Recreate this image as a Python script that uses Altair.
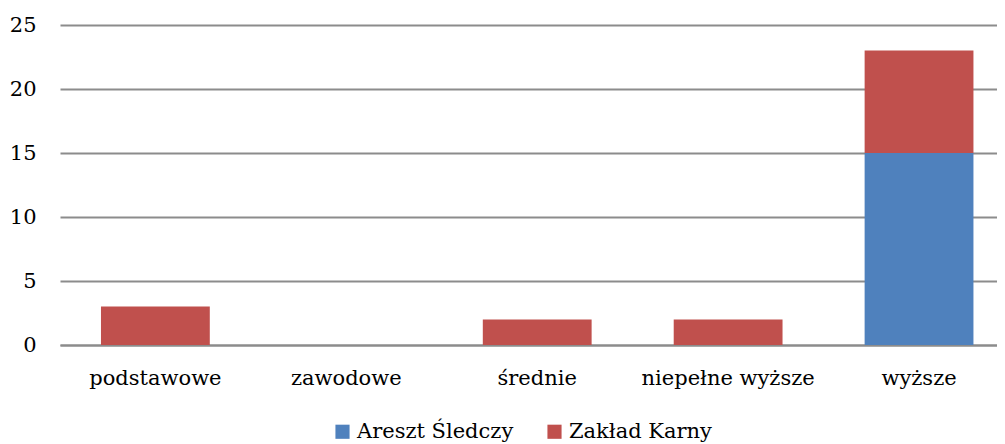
import altair as alt
import pandas as pd

categories = ["podstawowe", "zawodowe", "średnie", "niepełne wyższe", "wyższe"]
series = ["Areszt Śledczy", "Zakład Karny"]
areszt = [0, 0, 0, 0, 15]
zaklad = [3, 0, 2, 2, 8]
colors = ["#4F81BD", "#C0504D"]

rows = []
for i, c in enumerate(categories):
    rows.append({"cat": c, "series": series[0], "value": areszt[i], "ord": 0})
    rows.append({"cat": c, "series": series[1], "value": zaklad[i], "ord": 1})
df = pd.DataFrame(rows)

font = "DejaVu Serif"
fs = 21

chart = alt.Chart(df).mark_bar().encode(
    x=alt.X("cat:N", sort=categories, title=None,
            scale=alt.Scale(paddingInner=0.43, paddingOuter=0.169, align=0.635),
            axis=alt.Axis(labelAngle=0, labelFontSize=fs, labelFont=font, labelColor="#000",
                          ticks=False, domain=True, domainColor="#8c8c8c", domainWidth=2,
                          labelPadding=22, grid=False, labelLimit=400)),
    y=alt.Y("value:Q", stack="zero", title=None,
            scale=alt.Scale(domain=[0, 25]),
            axis=alt.Axis(values=[0, 5, 10, 15, 20, 25], labelFontSize=fs, labelFont=font,
                          labelColor="#000", ticks=False, domain=False, labelPadding=24,
                          gridColor="#8c8c8c", gridWidth=2)),
    color=alt.Color("series:N", sort=series,
                    scale=alt.Scale(domain=series, range=colors),
                    legend=alt.Legend(orient="none", direction="horizontal", title=None,
                                      legendX=272, legendY=396,
                                      labelFontSize=fs, labelFont=font, labelColor="#000",
                                      symbolType="square", symbolSize=200, symbolStrokeWidth=0,
                                      columnPadding=30, labelLimit=400)),
    order=alt.Order("ord:Q"),
).properties(
    width=937, height=320,
    autosize=alt.AutoSizeParams(type="none"),
    padding={"left": 52, "top": 17, "right": 0, "bottom": 99},
).configure_view(stroke=None)

chart.save("out.html", embed_options={"renderer": "svg", "actions": False})
